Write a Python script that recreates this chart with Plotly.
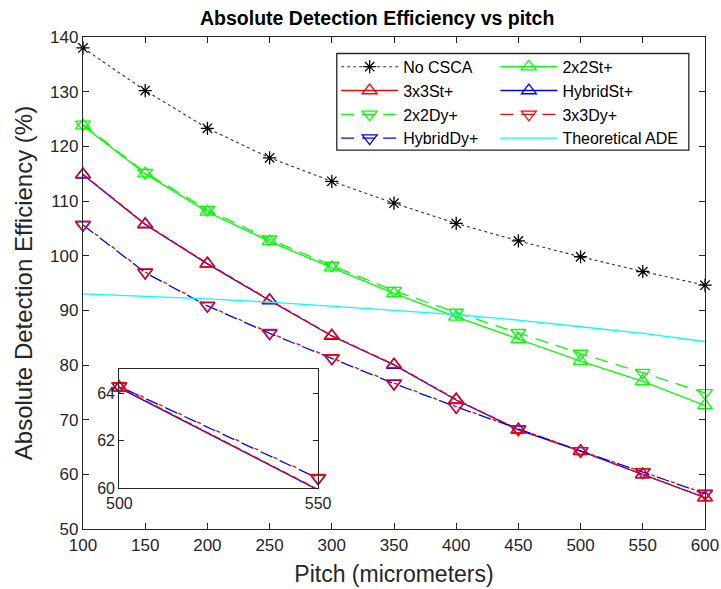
import plotly.graph_objects as go

pitch = [100, 150, 200, 250, 300, 350, 400, 450, 500, 550, 600]
no_csca = [138.0, 130.2, 123.3, 117.9, 113.6, 109.6, 105.9, 102.7, 99.8, 97.1, 94.6]
st_2x2 = [123.8, 115.0, 108.0, 102.6, 97.8, 93.1, 88.8, 84.7, 80.7, 77.0, 72.6]
st_3x3 = [114.9, 105.8, 98.6, 91.9, 85.4, 80.1, 73.7, 68.2, 64.25, 59.95, 55.8]
st_hyb = [114.8, 105.7, 98.5, 91.8, 85.3, 80.0, 73.6, 68.15, 64.22, 59.93, 55.75]
dy_2x2 = [124.0, 115.2, 108.4, 103.0, 98.2, 93.6, 89.6, 85.9, 82.1, 78.6, 74.9]
dy_3x3 = [105.7, 97.0, 90.9, 85.9, 81.3, 76.7, 72.4, 68.3, 64.3, 60.45, 56.5]
dy_hyb = [105.6, 96.9, 90.8, 85.8, 81.2, 76.6, 72.35, 68.25, 64.28, 60.42, 56.45]
theory = [93.0, 92.6, 92.1, 91.5, 90.8, 90.0, 89.2, 88.2, 87.0, 85.8, 84.3]

x_ticks = [100, 150, 200, 250, 300, 350, 400, 450, 500, 550, 600]
y_ticks = [50, 60, 70, 80, 90, 100, 110, 120, 130, 140]
inset_x_ticks = [500, 550]
inset_y_ticks = [60, 62, 64]
inset_xr = [500, 550]
inset_yr = [60, 65]

GREEN, RED, BLUE, CYAN, BLACK = "#00FF00", "#FF0000", "#0000FF", "#00FFFF", "#000000"
AX = "#262626"
FONT = "Liberation Sans, Arial, Helvetica, sans-serif"
LW = 1.3
MS = 13

series = [
    # name, y, color, dash, symbol, legend
    ("No CSCA", no_csca, "#333333", "dot", "asterisk-open", "legend"),
    ("2x2St+", st_2x2, GREEN, "solid", "triangle-up-open", "legend2"),
    ("3x3St+", st_3x3, RED, "solid", "triangle-up-open", "legend"),
    ("HybridSt+", st_hyb, BLUE, "solid", "triangle-up-open", "legend2"),
    ("2x2Dy+", dy_2x2, GREEN, "13px,8px", "triangle-down-open", "legend"),
    ("3x3Dy+", dy_3x3, RED, "13px,8px", "triangle-down-open", "legend2"),
    ("HybridDy+", dy_hyb, BLUE, "13px,8px", "triangle-down-open", "legend"),
    ("Theoretical ADE", theory, CYAN, "solid", None, "legend2"),
]

plot_dash = {"3x3St+": "8px,3px", "3x3Dy+": "0px,15px,4px,2px"}
draw_order = ["No CSCA", "2x2St+", "HybridSt+", "3x3St+", "2x2Dy+", "HybridDy+", "3x3Dy+", "Theoretical ADE"]
inset_names = ["HybridSt+", "3x3St+", "HybridDy+", "3x3Dy+"]
info = {s[0]: s for s in series}

fig = go.Figure()

for nm in draw_order:
    _, y, col, dash, sym, _lg = info[nm]
    d = plot_dash.get(nm, dash)
    lw = 1.1 if nm == "No CSCA" else LW
    mcol = BLACK if nm == "No CSCA" else col
    msize = 11 if sym == "asterisk-open" else MS
    fig.add_trace(go.Scatter(
        x=pitch, y=y, mode="lines", showlegend=False, cliponaxis=False,
        line=dict(color=col, width=lw, dash=d), hoverinfo="skip"))
    if sym:
        fig.add_trace(go.Scatter(
            x=pitch, y=y, mode="markers", showlegend=False, cliponaxis=False,
            marker=dict(symbol=sym, size=msize, color=mcol, line=dict(color=mcol, width=1.3)),
            hoverinfo="skip"))

# inset
for nm in inset_names:
    _, y, col, dash, sym, _lg = info[nm]
    d = plot_dash.get(nm, dash)
    fig.add_trace(go.Scatter(
        x=pitch, y=y, mode="lines", showlegend=False, cliponaxis=True,
        xaxis="x2", yaxis="y2", line=dict(color=col, width=LW, dash=d), hoverinfo="skip"))
    mx = [p for p, v in zip(pitch, y) if inset_xr[0] <= p <= inset_xr[1] and inset_yr[0] <= v <= inset_yr[1]]
    my = [v for p, v in zip(pitch, y) if inset_xr[0] <= p <= inset_xr[1] and inset_yr[0] <= v <= inset_yr[1]]
    fig.add_trace(go.Scatter(
        x=mx, y=my, mode="markers", showlegend=False, cliponaxis=False,
        xaxis="x2", yaxis="y2",
        marker=dict(symbol=sym, size=MS, color=col, line=dict(color=col, width=1.3)),
        hoverinfo="skip"))

# legend entries
for nm, y, col, dash, sym, lg in series:
    msize = 11 if sym == "asterisk-open" else MS
    mcol = BLACK if nm == "No CSCA" else col
    fig.add_trace(go.Scatter(
        x=[None], y=[None], name=nm, legend=lg,
        mode="lines+markers" if sym else "lines",
        line=dict(color=col, width=1.1 if nm == "No CSCA" else LW, dash=dash),
        marker=dict(symbol=sym or "circle", size=msize, color=mcol, line=dict(color=mcol, width=1.3))))

axis_common = dict(
    showline=True, linecolor=AX, linewidth=1.3, mirror="ticks", ticks="inside",
    tickcolor=AX, tickwidth=1.2, ticklen=6, showgrid=False, zeroline=False,
    automargin=False,
    tickfont=dict(family=FONT, size=17, color=AX),
)

fig.update_layout(
    width=721, height=589,
    margin=dict(l=83, r=16, t=37, b=60),
    paper_bgcolor="white", plot_bgcolor="white",
    title=dict(text="<b>Absolute Detection Efficiency vs pitch</b>",
               font=dict(family=FONT, size=19.5, color=BLACK),
               x=0.473, xref="paper", xanchor="center", y=1 - 18 / 589, yanchor="middle"),
    xaxis=dict(range=[100, 600], tickvals=x_ticks, domain=[0, 1],
               title=dict(text="Pitch (micrometers)", font=dict(family=FONT, size=23, color=AX), standoff=12),
               **axis_common),
    yaxis=dict(range=[50, 140], tickvals=y_ticks, domain=[0, 1],
               title=dict(text="Absolute Detection Efficiency (%)", font=dict(family=FONT, size=24, color=AX), standoff=10),
               **axis_common),
    xaxis2=dict(range=inset_xr, tickvals=inset_x_ticks, domain=[0.0584, 0.378], anchor="y2",
                **{**axis_common, "tickfont": dict(family=FONT, size=16, color=AX), "ticklen": 5}),
    yaxis2=dict(range=inset_yr, tickvals=inset_y_ticks, domain=[0.0827, 0.3246], anchor="x2",
                **{**axis_common, "tickfont": dict(family=FONT, size=16, color=AX), "ticklen": 5}),
    legend=dict(x=0.407, y=0.974, xanchor="left", yanchor="top", bgcolor="rgba(0,0,0,0)",
                font=dict(family=FONT, size=16, color=BLACK), itemwidth=57, tracegroupgap=0),
    legend2=dict(x=0.663, y=0.974, xanchor="left", yanchor="top", bgcolor="rgba(0,0,0,0)",
                 font=dict(family=FONT, size=16, color=BLACK), itemwidth=57, tracegroupgap=0),
    shapes=[dict(type="rect", xref="paper", yref="paper", x0=0.408, x1=0.974, y0=0.770, y1=0.9665,
                 line=dict(color=AX, width=1.3), fillcolor="rgba(0,0,0,0)")],
    showlegend=True,
)

fig.write_html("out.html")
